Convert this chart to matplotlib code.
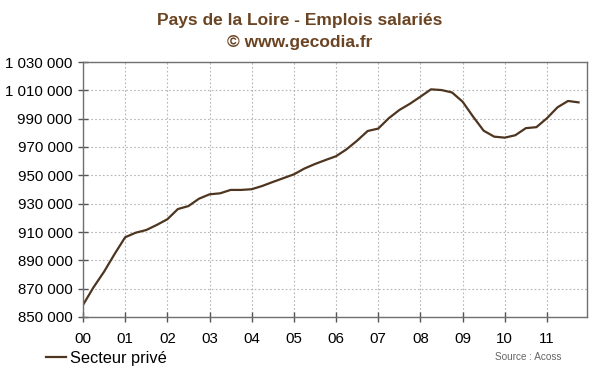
import matplotlib
matplotlib.use("Agg")
import matplotlib.pyplot as plt
import numpy as np
from matplotlib.ticker import FuncFormatter

# quarterly private sector jobs, Pays de la Loire, 2000 Q1 -> 2011 Q4
years = np.arange(0, 12, 0.25)
emplois = [
    858500, 871000, 882000, 894500,
    906300, 909500, 911400, 915000,
    919000, 926200, 928300, 933500,
    936600, 937300, 939700, 939700,
    940200, 942500, 945300, 948000,
    950700, 954800, 958000, 960800,
    963500, 968400, 974500, 981300,
    983000, 990300, 996100, 1000500,
    1005500, 1010700, 1010200, 1008500,
    1002000, 991400, 981500, 977300,
    976600, 978300, 983300, 984000,
    990300, 998000, 1002500, 1001500,
]
year_labels = ["00", "01", "02", "03", "04", "05", "06", "07", "08", "09", "10", "11"]
y_ticks = list(range(850000, 1030001, 20000))

brown = "#6b4423"
line_col = "#4e3520"

plt.rcParams["font.family"] = ["Liberation Sans", "DejaVu Sans"]

fig = plt.figure(figsize=(6, 3.72), dpi=100)
ax = fig.add_axes([83 / 600, 1 - 317 / 372, (587 - 83) / 600, (317 - 62) / 372])

ax.plot(years, emplois, color=line_col, lw=1.6, label="Secteur privé")

ax.set_xlim(0, 11.95)
ax.set_ylim(850000, 1030000)
ax.set_xticks(range(len(year_labels)))
ax.set_xticklabels(year_labels)
ax.set_yticks(y_ticks)
ax.yaxis.set_major_formatter(FuncFormatter(lambda v, p: f"{int(v):,}".replace(",", " ")))

ax.grid(True, color="#b5b5b5", linestyle=(0, (1.5, 2)), lw=0.8)
for s in ax.spines.values():
    s.set_color("#707070")
    s.set_linewidth(1)
ax.tick_params(direction="inout", length=7, width=1, color="#555555",
               labelsize=10.8, labelcolor="black")
ax.tick_params(axis="y", pad=4)
ax.tick_params(axis="x", pad=7)

fig.text(0.5, 1 - 20 / 372, "Pays de la Loire - Emplois salariés", ha="center", va="center",
         fontsize=12.5, fontweight="bold", color=brown)
fig.text(0.5, 1 - 43 / 372, "© www.gecodia.fr", ha="center", va="center",
         fontsize=12.5, fontweight="bold", color=brown)

fig.legend(loc="lower left", bbox_to_anchor=(36 / 600, -0.01), frameon=False,
           fontsize=11.8, handlelength=1.2, handletextpad=0.3, borderaxespad=0.2)
fig.text(528 / 600, 1 - 357 / 372, "Source : Acoss", ha="center", va="center",
         fontsize=7.2, color="#666666")

fig.savefig("out.png", dpi=100, facecolor="white")
